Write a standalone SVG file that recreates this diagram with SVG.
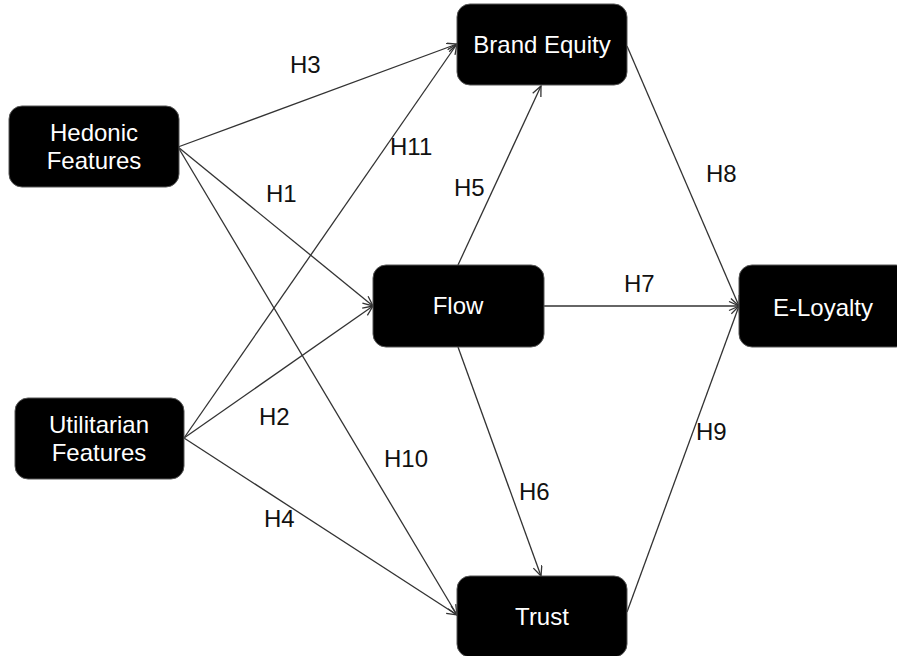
<svg xmlns="http://www.w3.org/2000/svg" width="897" height="656" viewBox="0 0 897 656">
<defs>
<marker id="arr" markerUnits="userSpaceOnUse" markerWidth="14" markerHeight="12" refX="11" refY="5" orient="auto">
<path d="M1,0.5 L11,5 L1,9.5" fill="none" stroke="#333" stroke-width="1.3"/>
</marker>
<style>
.node rect { fill: #000; stroke: #555; stroke-width: 1; }
.node text { fill: #fff; font-family: "Liberation Sans", Arial, sans-serif; font-size: 24px; text-anchor: middle; }
.edge { stroke: #333; stroke-width: 1.3; fill: none; }
.lbl { fill: #111; font-family: "Liberation Sans", Arial, sans-serif; font-size: 24px; }
</style>
</defs>
<rect width="897" height="656" fill="#fff"/>
<g id="connectors">
<line class="edge" x1="178" y1="147" x2="457" y2="44" marker-end="url(#arr)"/>
<line class="edge" x1="178" y1="147" x2="373" y2="306" marker-end="url(#arr)"/>
<line class="edge" x1="178" y1="147" x2="457" y2="615" marker-end="url(#arr)"/>
<line class="edge" x1="184" y1="438" x2="457" y2="44" marker-end="url(#arr)"/>
<line class="edge" x1="184" y1="438" x2="373" y2="306" marker-end="url(#arr)"/>
<line class="edge" x1="184" y1="438" x2="457" y2="615" marker-end="url(#arr)"/>
<line class="edge" x1="458" y1="265" x2="541" y2="86" marker-end="url(#arr)"/>
<line class="edge" x1="458" y1="347" x2="541" y2="576" marker-end="url(#arr)"/>
<line class="edge" x1="544" y1="306" x2="739" y2="306" marker-end="url(#arr)"/>
<line class="edge" x1="627" y1="46" x2="739" y2="306" marker-end="url(#arr)"/>
<line class="edge" x1="627" y1="612" x2="739" y2="306" marker-end="url(#arr)"/>
<text class="lbl" x="290" y="73">H3</text>
<text class="lbl" x="390" y="155">H11</text>
<text class="lbl" x="266" y="202">H1</text>
<text class="lbl" x="454" y="196">H5</text>
<text class="lbl" x="706" y="182">H8</text>
<text class="lbl" x="624" y="292">H7</text>
<text class="lbl" x="259" y="425">H2</text>
<text class="lbl" x="384" y="467">H10</text>
<text class="lbl" x="519" y="500">H6</text>
<text class="lbl" x="696" y="440">H9</text>
<text class="lbl" x="264" y="527">H4</text>
</g>
<g id="hedonic" class="node">
<rect x="9" y="106" width="170" height="81" rx="13"/>
<text x="94" y="141">Hedonic</text>
<text x="94" y="169">Features</text>
</g>
<g id="utilitarian" class="node">
<rect x="15" y="398" width="169" height="81" rx="13"/>
<text x="99" y="433">Utilitarian</text>
<text x="99" y="461">Features</text>
</g>
<g id="brand-equity" class="node">
<rect x="457" y="4" width="170" height="81" rx="13"/>
<text x="542" y="53">Brand Equity</text>
</g>
<g id="flow" class="node">
<rect x="373" y="265" width="171" height="82" rx="13"/>
<text x="458" y="314">Flow</text>
</g>
<g id="e-loyalty" class="node">
<rect x="739" y="265" width="170" height="82" rx="13"/>
<text x="823" y="316">E-Loyalty</text>
</g>
<g id="trust" class="node">
<rect x="457" y="576" width="170" height="81" rx="13"/>
<text x="542" y="625">Trust</text>
</g>
</svg>
